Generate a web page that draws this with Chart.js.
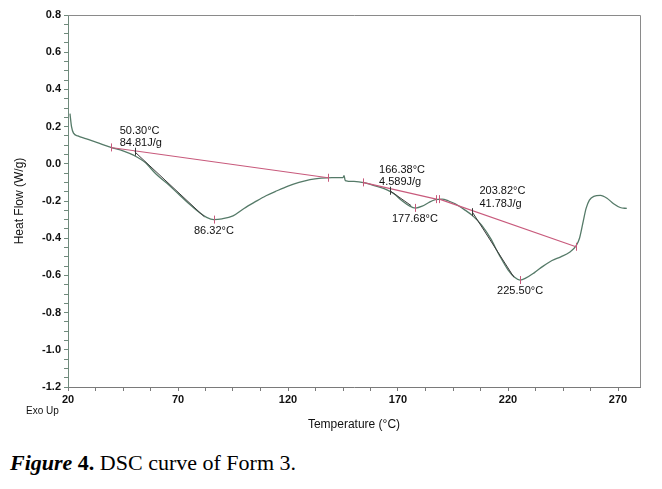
<!DOCTYPE html>
<html>
<head>
<meta charset="utf-8">
<script src="https://cdn.jsdelivr.net/npm/chart.js@4/dist/chart.umd.min.js"></script>
<style>
  html, body { margin: 0; padding: 0; background: #fff; }
  #wrap { position: relative; width: 662px; height: 489px; }
  #caption {
    position: absolute; left: 10px; top: 452px;
    font-family: "Liberation Serif", "Times New Roman", serif;
    font-size: 22px; line-height: 22px; color: #000; white-space: nowrap;
  }
</style>
</head>
<body>
<div id="wrap">
  <canvas id="dsc" width="662" height="440"></canvas>
  <div id="caption"><b><i>Figure</i> 4.</b> DSC curve of Form 3.</div>
</div>
<script>
"use strict";

// DSC trace
const tempC = [20.9, 21.6, 22.5, 24.5, 28, 33, 39.5, 45, 50, 55, 60, 65, 70, 75, 80, 83, 86.3,
  90, 95, 100, 105, 110, 115, 120, 125, 130, 135, 140, 145, 145.5, 146, 150, 155, 160, 165,
  168, 172, 175, 178, 181, 184, 187, 190, 193, 196, 200, 204, 208, 212, 216, 220, 223, 225.5,
  228, 232, 236, 240, 244, 248, 251, 252.5, 254, 255.5, 257, 259, 262, 265, 268, 271, 274];
const heatFlow = [0.27, 0.2, 0.165, 0.15, 0.135, 0.115, 0.088, 0.07, 0.045, 0.008, -0.055, -0.105,
  -0.16, -0.215, -0.265, -0.288, -0.3, -0.296, -0.28, -0.24, -0.205, -0.172, -0.145, -0.12, -0.1,
  -0.085, -0.077, -0.074, -0.074, -0.064, -0.09, -0.095, -0.103, -0.12, -0.14, -0.16, -0.2,
  -0.225, -0.238, -0.228, -0.208, -0.193, -0.19, -0.2, -0.215, -0.245, -0.28, -0.33, -0.4,
  -0.49, -0.57, -0.61, -0.625, -0.615, -0.585, -0.55, -0.52, -0.5, -0.475, -0.44, -0.4, -0.32,
  -0.24, -0.195, -0.175, -0.17, -0.185, -0.215, -0.235, -0.24];

// axis ticks
const xMajorTicks = [20, 70, 120, 170, 220, 270];
const xMinorPerMajor = 4;

// integration baselines (start / end)
const baselineStart = [{ x: 39.5, y: 0.088 }, { x: 154, y: -0.1 }, { x: 188.8, y: -0.19 }];
const baselineEnd = [{ x: 138.2, y: -0.075 }, { x: 187.4, y: -0.19 }, { x: 250.9, y: -0.446 }];

// onsets, enthalpies, peaks
const onsetTemps = [50.3, 166.38, 203.82];
const onsetFlows = [0.065, -0.145, -0.26];
const enthalpies = ["84.81", "4.589", "41.78"];
const tangentEnds = [{ x: 82, y: -0.285 }, { x: 176, y: -0.225 }, { x: 222.7, y: -0.61 }];
const peakTemps = [86.32, 177.68, 225.5];
const peakFlows = [-0.3, -0.237, -0.625];

// label offsets in px from the onset mark
const onsetLabelOffsets = [[-15, -21], [-11, -21], [7, -21]];

const curveColor = "#557a68";
const pink = "#c85a7c";
const dark = "#3c3c3c";

const datasets = [];
datasets.push({
  label: "DSC",
  data: tempC.map((t, i) => ({ x: t, y: heatFlow[i] })),
  borderColor: curveColor,
  borderWidth: 1.3,
  pointRadius: 0,
  cubicInterpolationMode: "monotone",
  order: 3,
});
baselineStart.forEach((p, i) => {
  datasets.push({
    data: [p, baselineEnd[i]],
    borderColor: pink,
    borderWidth: 1.1,
    pointRadius: 0,
    order: 1,
  });
});
onsetTemps.forEach((t, i) => {
  datasets.push({
    data: [{ x: t, y: onsetFlows[i] }, tangentEnds[i]],
    borderColor: dark,
    borderWidth: 1,
    pointRadius: 0,
    order: 2,
  });
});

// major + minor tick values for x
const xTicks = [];
xMajorTicks.forEach((v, i) => {
  xTicks.push(v);
  if (i < xMajorTicks.length - 1) {
    const step = (xMajorTicks[i + 1] - v) / xMinorPerMajor;
    for (let k = 1; k < xMinorPerMajor; k++) xTicks.push(v + k * step);
  }
});

const extras = {
  id: "extras",
  afterDatasetsDraw(chart) {
    const { ctx, chartArea: a, scales } = chart;
    const X = scales.x, Y = scales.y;
    ctx.save();
    // top / right frame
    ctx.strokeStyle = "#8a8a8a";
    ctx.lineWidth = 1;
    ctx.beginPath();
    ctx.moveTo(a.left, a.top + 0.5);
    ctx.lineTo(a.right + 0.5, a.top + 0.5);
    ctx.lineTo(a.right + 0.5, a.bottom);
    ctx.stroke();

    const mark = (x, y, col) => {
      const px = Math.round(X.getPixelForValue(x)) + 0.5;
      const py = Y.getPixelForValue(y);
      ctx.strokeStyle = col;
      ctx.beginPath();
      ctx.moveTo(px, py - 4);
      ctx.lineTo(px, py + 4);
      ctx.stroke();
    };
    baselineStart.forEach((p, i) => { mark(p.x, p.y, pink); mark(baselineEnd[i].x, baselineEnd[i].y, pink); });
    peakTemps.forEach((t, i) => mark(t, peakFlows[i], pink));
    onsetTemps.forEach((t, i) => mark(t, onsetFlows[i], dark));

    ctx.fillStyle = "#111";
    ctx.font = "11px 'Liberation Sans', Arial, sans-serif";
    ctx.textBaseline = "middle";
    ctx.textAlign = "left";
    onsetTemps.forEach((t, i) => {
      const px = X.getPixelForValue(t) + onsetLabelOffsets[i][0];
      const py = Y.getPixelForValue(onsetFlows[i]) + onsetLabelOffsets[i][1];
      ctx.fillText(t.toFixed(2) + "°C", px, py);
      ctx.fillText(enthalpies[i] + "J/g", px, py + 12.5);
    });
    ctx.textAlign = "center";
    peakTemps.forEach((t, i) => {
      ctx.fillText(t.toFixed(2) + "°C", X.getPixelForValue(t), Y.getPixelForValue(peakFlows[i]) + 11);
    });

    ctx.textAlign = "left";
    ctx.font = "10px 'Liberation Sans', Arial, sans-serif";
    ctx.fillText("Exo Up", 26, 411);
    ctx.restore();
  },
};

const tickFont = { family: "'Liberation Sans', Arial, sans-serif", size: 11, weight: "bold" };

new Chart(document.getElementById("dsc"), {
  type: "line",
  data: { datasets },
  options: {
    responsive: false,
    animation: false,
    layout: { padding: { top: 15, right: 22, left: 0, bottom: 0 } },
    plugins: { legend: { display: false }, tooltip: { enabled: false } },
    scales: {
      x: {
        type: "linear",
        min: 20,
        max: 280,
        afterFit: (s) => { s.height = 53; },
        afterBuildTicks: (s) => { s.ticks = xTicks.map((v) => ({ value: v })); },
        border: { color: "#7a7a7a", width: 1 },
        grid: { drawOnChartArea: false, tickLength: 4, color: "#7a7a7a" },
        ticks: {
          autoSkip: false,
          maxRotation: 0,
          padding: 2,
          color: "#111",
          font: tickFont,
          callback: (v) => (xMajorTicks.includes(v) ? String(v) : ""),
        },
        title: {
          display: true,
          text: "Temperature (°C)",
          color: "#111",
          padding: 8,
          font: { family: "'Liberation Sans', Arial, sans-serif", size: 12 },
        },
      },
      y: {
        min: -1.2,
        max: 0.8,
        afterFit: (s) => { s.width = 68; },
        border: { color: "#6f8a7c", width: 1 },
        grid: { drawOnChartArea: false, tickLength: 4, color: "#6f8a7c" },
        ticks: {
          stepSize: 0.05,
          autoSkip: false,
          padding: 3,
          color: "#111",
          font: tickFont,
          callback: (v) => {
            const r = Math.round(v * 10);
            return Math.abs(r / 10 - v) < 1e-6 && Math.abs(r) % 2 === 0 ? (r / 10).toFixed(1) : "";
          },
        },
        title: {
          display: true,
          text: "Heat Flow (W/g)",
          color: "#111",
          padding: 12,
          font: { family: "'Liberation Sans', Arial, sans-serif", size: 12 },
        },
      },
    },
  },
  plugins: [extras],
});
</script>
</body>
</html>
